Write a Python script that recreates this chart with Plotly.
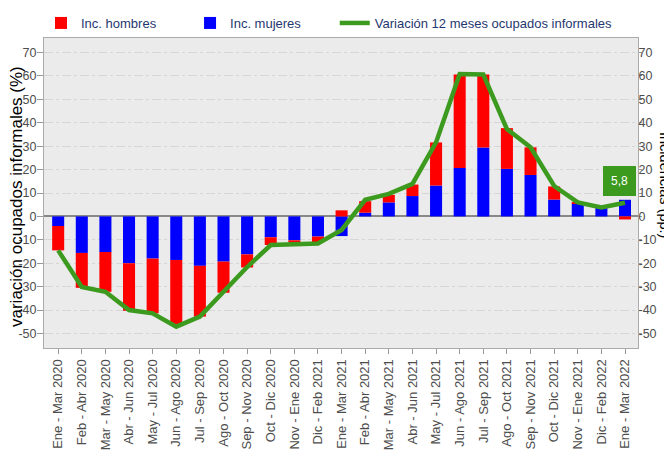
import plotly.graph_objects as go

categorias = ["Ene - Mar 2020", "Feb - Abr 2020", "Mar - May 2020", "Abr - Jun 2020",
              "May - Jul 2020", "Jun - Ago 2020", "Jul - Sep 2020", "Ago - Oct 2020",
              "Sep - Nov 2020", "Oct - Dic 2020", "Nov - Ene 2020", "Dic - Feb 2021",
              "Ene - Mar 2021", "Feb - Abr 2021", "Mar - May 2021", "Abr - Jun 2021",
              "May - Jul 2021", "Jun - Ago 2021", "Jul - Sep 2021", "Ago - Oct 2021",
              "Sep - Nov 2021", "Oct - Dic 2021", "Nov - Ene 2021", "Dic - Feb 2022",
              "Ene - Mar 2022"]

inc_mujeres = [-4.1, -15.6, -15.2, -20.0, -18.0, -18.6, -21.1, -19.3, -16.2, -8.9,
               -10.2, -8.6, -8.4, 1.6, 6.0, 8.7, 13.2, 20.7, 29.4, 20.3,
               17.7, 7.2, 5.6, 3.9, 7.1]
inc_hombres = [-10.4, -14.9, -17.0, -20.3, -23.4, -27.4, -21.7, -13.3, -5.6, -3.3,
               -1.0, -2.5, 2.6, 4.9, 3.2, 4.9, 18.4, 39.9, 31.2, 17.4,
               11.8, 5.6, 0.4, 0.0, -1.3]
variacion = [-14.5, -30.1, -32.2, -40.0, -41.4, -47.1, -42.8, -32.3, -21.6, -12.2,
             -12.0, -11.6, -5.8, 7.1, 9.6, 13.9, 31.6, 60.8, 60.6, 37.3,
             29.5, 13.0, 6.0, 3.8, 5.8]

tick_vals = [-50, -40, -30, -20, -10, 0, 10, 20, 30, 40, 50, 60, 70]
tick_text = ["-50", "-40", "-30", "-20", "-10", "0", "10", "20", "30", "40", "50", "60", "70"]
y_range = [-56.2, 76.2]

green = "#3c9a1e"
tick_font = dict(family="Liberation Sans, Arial", size=13, color="#4d4d4d")
ytick_font = dict(family="Liberation Sans, Arial", size=12.5, color="#4d4d4d")
pad = "\u00a0" * 8

fig = go.Figure()
fig.add_trace(go.Bar(x=categorias, y=inc_mujeres, name="Inc. mujeres" + pad,
                     marker=dict(color="#0000ff", line=dict(width=0)), legendrank=2))
fig.add_trace(go.Bar(x=categorias, y=inc_hombres, name="Inc. hombres" + pad,
                     marker=dict(color="#ff0000", line=dict(width=0)), legendrank=1))
fig.add_trace(go.Scatter(x=categorias, y=variacion, name="Variación 12 meses ocupados informales",
                         mode="lines", line=dict(color=green, width=4.5), yaxis="y2",
                         legendrank=3))

fig.add_annotation(x=categorias[-1], y=variacion[-1], yref="y2", text="5,8",
                   showarrow=False, xshift=-6, yshift=22,
                   bgcolor=green, bordercolor=green, borderpad=7,
                   font=dict(family="Liberation Sans, Arial", size=12, color="white"))

fig.add_annotation(x=1.0, xref="paper", xanchor="center", xshift=27, y=0.5, yref="paper",
                   yanchor="middle", yshift=8,
                   text="Incidencias (pp.)", textangle=90, showarrow=False,
                   font=dict(family="Liberation Sans, Arial", size=14.5, color="black"))

fig.add_annotation(x=0.0, xref="paper", xanchor="center", xshift=-28, y=0.5, yref="paper",
                   yanchor="middle", yshift=-4,
                   text="variación ocupados informales (%)", textangle=-90, showarrow=False,
                   font=dict(family="Liberation Sans, Arial", size=17, color="black"))

fig.update_layout(
    width=664, height=454,
    margin=dict(l=36, r=34, t=29, b=114),
    barmode="relative", bargap=0.49,
    paper_bgcolor="white", plot_bgcolor="#ebebeb",
    showlegend=True,
    legend=dict(orientation="h", x=33 / 664, xref="container", xanchor="left",
                y=1.0, yanchor="top", yref="container",
                font=dict(family="Liberation Sans, Arial", size=13, color="#1f3870"),
                itemwidth=30, bgcolor="rgba(0,0,0,0)"),
    xaxis=dict(type="category", range=[-0.6, 24.55], tickangle=-90, tickfont=tick_font,
               ticks="outside", ticklen=5, tickcolor="#999", showgrid=False,
               showline=True, linecolor="#aaaaaa", linewidth=1, mirror=True, automargin=False),
    yaxis=dict(range=y_range, tickvals=tick_vals, ticktext=tick_text, tickfont=ytick_font,
               ticks="outside", ticklen=6, tickcolor="#999", ticklabelstandoff=-2,
               showgrid=True, gridcolor="#d6d6d6",
               griddash="dashdot", gridwidth=1, zeroline=True, zerolinecolor="#888888",
               zerolinewidth=2, showline=True, linecolor="#aaaaaa", linewidth=1, mirror=True,
               automargin=False),
    yaxis2=dict(range=y_range, tickvals=tick_vals, ticktext=tick_text, tickfont=ytick_font,
                ticks="outside", ticklen=3, tickcolor="#999", overlaying="y", side="right",
                ticklabelstandoff=-6,
                showgrid=False, zeroline=False, automargin=False),
)

fig.write_html("out.html")
